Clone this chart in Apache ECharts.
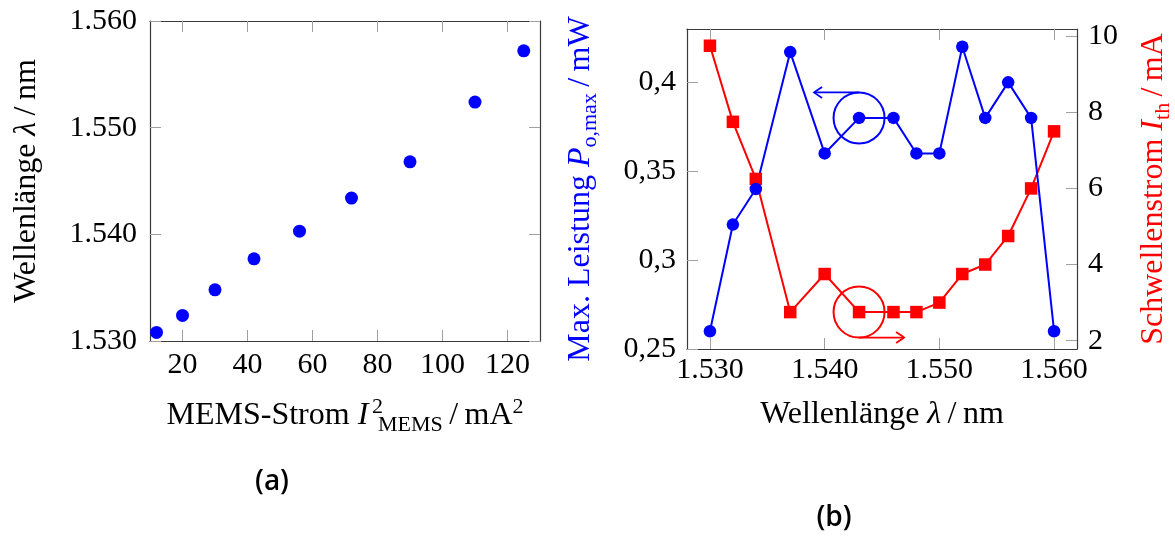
<!DOCTYPE html>
<html><head><meta charset="utf-8">
<script src="https://cdn.jsdelivr.net/npm/echarts@6/dist/echarts.min.js"></script>
<style>html,body{margin:0;padding:0;background:#fff}#c{width:1175px;height:538px}</style>
</head><body><div id="c"></div>
<script>
// ---- data (a) ----
const memsCurrentSq = [12, 20, 30, 42, 56, 72, 90, 110, 125];
const memsWavelength = [1530.8, 1532.4, 1534.8, 1537.7, 1540.3, 1543.4, 1546.8, 1552.4, 1557.2];
// ---- data (b) ----
const wavelengthB = [1530, 1532, 1534, 1537, 1540, 1543, 1546, 1548, 1550, 1552, 1554, 1556, 1558, 1560];
const powerMax = [0.26, 0.32, 0.34, 0.417, 0.36, 0.38, 0.38, 0.36, 0.36, 0.42, 0.38, 0.40, 0.38, 0.26];
const thresholdCurrent = [9.75, 7.75, 6.25, 2.75, 3.75, 2.75, 2.75, 2.75, 3.0, 3.75, 4.0, 4.75, 6.0, 7.5];
// ---- ticks ----
const ticksAx = [20, 40, 60, 80, 100, 120];
const ticksAy = [1530, 1540, 1550, 1560];
const ticksBx = [1530, 1540, 1550, 1560];
const ticksByLeft = [0.25, 0.3, 0.35, 0.4];
const ticksByRight = [2, 4, 6, 8, 10];
// ---- annotation anchors ----
const annotationPower = [1543, 0.38];
const annotationThreshold = [1543, 2.75];

const F = '"Liberation Serif", "DejaVu Serif", serif';
const BLUE = '#0000ff', RED = '#ff0000';
const thousands = v => { const s = String(Math.round(v)); return s.slice(0, s.length - 3) + '.' + s.slice(-3); };
const comma = v => String(v).replace('.', ',');

function axis(o) {
  return {
    type: 'value', gridIndex: o.grid, position: o.pos, min: o.min, max: o.max,
    splitLine: { show: false },
    axisLine: { show: true, onZero: false, lineStyle: { color: '#3a3a3a', width: 1.2 } },
    axisTick: { show: !!o.ticks, inside: true, length: 11, customValues: o.ticks,
      lineStyle: { color: '#a0a0a0', width: 1 } },
    axisLabel: o.fmt ? { show: true, customValues: o.ticks, formatter: o.fmt, margin: o.margin,
      color: '#000', fontFamily: F, fontSize: 30 } : { show: false }
  };
}

const chart = echarts.init(document.getElementById('c'), null, { renderer: 'canvas' });

function anno(color, dir) {
  return function (params, api) {
    const p = api.coord([api.value(0), api.value(1)]);
    const r = 25.5;
    const y0 = p[1] + (dir < 0 ? -r : r);
    const tip = p[0] + dir * 45;
    return { type: 'group', children: [
      { type: 'circle', shape: { cx: p[0], cy: p[1], r: r }, style: { fill: 'none', stroke: color, lineWidth: 2 } },
      { type: 'polyline', shape: { points: [[p[0], y0], [tip, y0]] }, style: { fill: 'none', stroke: color, lineWidth: 1.8 } },
      { type: 'polyline', shape: { points: [[tip - dir * 8, y0 - 5.5], [tip - dir * 2, y0 - 1.5], [tip, y0], [tip - dir * 2, y0 + 1.5], [tip - dir * 8, y0 + 5.5]] },
        style: { fill: 'none', stroke: color, lineWidth: 1.8 } }
    ] };
  };
}

function richStyle(size) {
  return {
    it: { fontStyle: 'italic', fontFamily: F, fontSize: size, lineHeight: 40 },
    sub: { fontFamily: F, fontSize: 22, lineHeight: 16, verticalAlign: 'bottom' },
    sup: { fontFamily: F, fontSize: 22, lineHeight: 16, verticalAlign: 'top' },
    sup0: { fontFamily: F, fontSize: 22, lineHeight: 16, verticalAlign: 'top', width: 1, padding: [0, 0, 0, 6] }
  };
}
function label(x, y, text, color, rot) {
  return { type: 'text', x: x, y: y, rotation: rot ? Math.PI / 2 : 0, silent: true,
    style: { text: text, fill: color, fontFamily: F, fontSize: 32, lineHeight: 40,
      align: 'center', verticalAlign: 'middle', rich: richStyle(32) } };
}

chart.setOption({
  animation: false,
  grid: [
    { left: 150, top: 21, width: 390, height: 320, outerBoundsMode: 'none', containLabel: false },
    { left: 687, top: 29, width: 390, height: 320, outerBoundsMode: 'none', containLabel: false }
  ],
  xAxis: [
    axis({ grid: 0, pos: 'bottom', min: 10, max: 130, ticks: ticksAx, fmt: v => String(v), margin: 9 }),
    axis({ grid: 0, pos: 'top', min: 10, max: 130, ticks: ticksAx }),
    axis({ grid: 1, pos: 'bottom', min: 1528, max: 1562, ticks: ticksBx, fmt: thousands, margin: 6 }),
    axis({ grid: 1, pos: 'top', min: 1528, max: 1562, ticks: ticksBx })
  ],
  yAxis: [
    axis({ grid: 0, pos: 'left', min: 1530, max: 1560, ticks: ticksAy, fmt: thousands, margin: 13 }),
    axis({ grid: 0, pos: 'right', min: 1530, max: 1560, ticks: ticksAy }),
    axis({ grid: 1, pos: 'left', min: 0.25, max: 0.43, ticks: ticksByLeft, fmt: comma, margin: 11 }),
    axis({ grid: 1, pos: 'right', min: 1.78, max: 10.19, ticks: ticksByRight, fmt: v => String(v), margin: 11 })
  ],
  series: [
    { type: 'scatter', xAxisIndex: 0, yAxisIndex: 0, symbol: 'circle', symbolSize: 13,
      itemStyle: { color: BLUE, opacity: 1 }, data: memsCurrentSq.map((x, i) => [x, memsWavelength[i]]) },
    { type: 'line', xAxisIndex: 2, yAxisIndex: 3, symbol: 'rect', symbolSize: 12.5, showAllSymbol: true,
      lineStyle: { color: RED, width: 2 }, itemStyle: { color: RED, opacity: 1 },
      data: wavelengthB.map((x, i) => [x, thresholdCurrent[i]]) },
    { type: 'line', xAxisIndex: 2, yAxisIndex: 2, symbol: 'circle', symbolSize: 12.5, showAllSymbol: true,
      lineStyle: { color: BLUE, width: 2 }, itemStyle: { color: BLUE, opacity: 1 },
      data: wavelengthB.map((x, i) => [x, powerMax[i]]) },
    { type: 'custom', xAxisIndex: 2, yAxisIndex: 2, z: 5, data: [annotationPower], renderItem: anno(BLUE, -1) },
    { type: 'custom', xAxisIndex: 2, yAxisIndex: 3, z: 5, data: [annotationThreshold], renderItem: anno(RED, 1) }
  ],
  graphic: [
    label(27, 181, 'Wellenlänge {it|λ}\u2009/\u2009nm', '#000', true),
    label(345, 416, 'MEMS-Strom {it|I\u200a}{sup0|2}{sub|MEMS}\u2009/\u2009mA{sup|2}', '#000', false),
    label(581, 189, 'Max. Leistung {it|P}{sub|o,max}\u2009/\u2009mW', BLUE, true),
    label(1154, 189, 'Schwellenstrom {it|I}{sub|th}\u2009/\u2009mA', RED, true),
    label(882, 415, 'Wellenlänge {it|λ}\u2009/\u2009nm', '#000', false),
    { type: 'text', x: 272, y: 482, silent: true, style: { text: '(a)', fill: '#000', fontFamily: '"Open Sans", sans-serif',
      fontWeight: 600, fontSize: 28, align: 'center', verticalAlign: 'middle' } },
    { type: 'text', x: 834, y: 518, silent: true, style: { text: '(b)', fill: '#000', fontFamily: '"Open Sans", sans-serif',
      fontWeight: 600, fontSize: 28, align: 'center', verticalAlign: 'middle' } }
  ]
});
</script></body></html>
